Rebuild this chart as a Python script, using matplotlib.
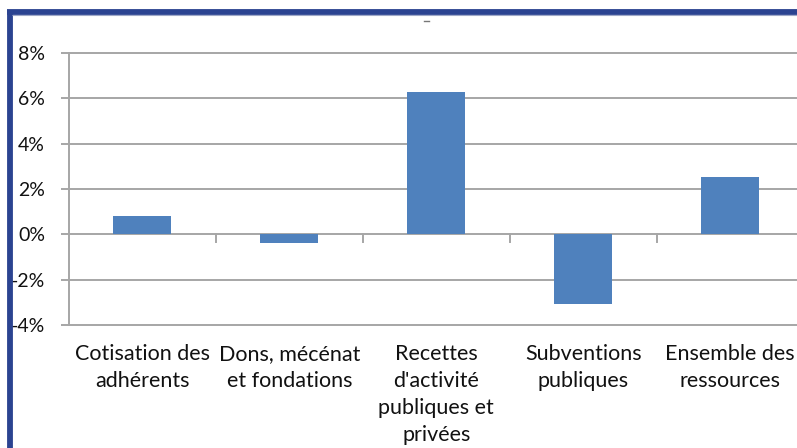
import matplotlib
matplotlib.use("Agg")
import matplotlib.pyplot as plt
from matplotlib.lines import Line2D

categories = ["Cotisation des\nadhérents", "Dons, mécénat\net fondations",
              "Recettes\nd'activité\npubliques et\nprivées", "Subventions\npubliques",
              "Ensemble des\nressources"]
values = [0.83, -0.4, 6.27, -3.08, 2.53]
yticks = [-4, -2, 0, 2, 4, 6, 8]
ytick_labels = ["-4%", "-2%", "0%", "2%", "4%", "6%", "8%"]

plt.rcParams['font.family'] = ['Lato', 'DejaVu Sans']

fig = plt.figure(figsize=(7.97, 4.48), dpi=100)
fig.patch.set_facecolor("white")

ax = fig.add_axes([69/797, 1-325/448, (803.7-69)/797, (325-53)/448])
ax.set_xlim(-0.5, 4.5)
ax.set_ylim(-4, 8)

grid_c = "#A6A6A6"
for y in yticks:
    ax.axhline(y, color=grid_c, lw=1.4, zorder=1, clip_on=False)

ax.bar(range(len(values)), values, width=0.395, color="#4F81BD", zorder=3)

# category boundary ticks on the zero axis
for b in [0.5, 1.5, 2.5, 3.5]:
    ax.plot([b, b], [0, -0.32], color=grid_c, lw=1.4, zorder=2)

for s in ["top", "right", "bottom"]:
    ax.spines[s].set_visible(False)
ax.spines["left"].set_color(grid_c)
ax.spines["left"].set_linewidth(1.4)

ax.set_yticks(yticks)
ax.set_yticklabels(ytick_labels, fontsize=14, color="#111111")
ax.tick_params(axis="y", length=5.8, width=1.4, color=grid_c, pad=11.5)

ax.set_xticks(range(len(categories)))
ax.set_xticklabels(categories, fontsize=15.5, color="#111111", linespacing=1.42)
ax.tick_params(axis="x", length=0, pad=14)

# frame border (dark blue) on left and top
fig.add_artist(Line2D([9.5/797, 9.5/797], [0, 1-10/448], transform=fig.transFigure,
                      color="#2B4391", lw=4.2, solid_capstyle="butt"))
fig.add_artist(Line2D([7/797, 1], [1-12.5/448, 1-12.5/448], transform=fig.transFigure,
                      color="#2B4391", lw=4.2, solid_capstyle="butt"))
fig.add_artist(Line2D([12/797, 1], [1-15.5/448, 1-15.5/448], transform=fig.transFigure,
                      color="#9FA8C8", lw=0.8, solid_capstyle="butt"))
# small dash remnant at top
fig.add_artist(Line2D([424/797, 429/797], [1-21/448, 1-21/448], transform=fig.transFigure,
                      color="#777777", lw=1.0))

fig.savefig("out.png", dpi=100)
